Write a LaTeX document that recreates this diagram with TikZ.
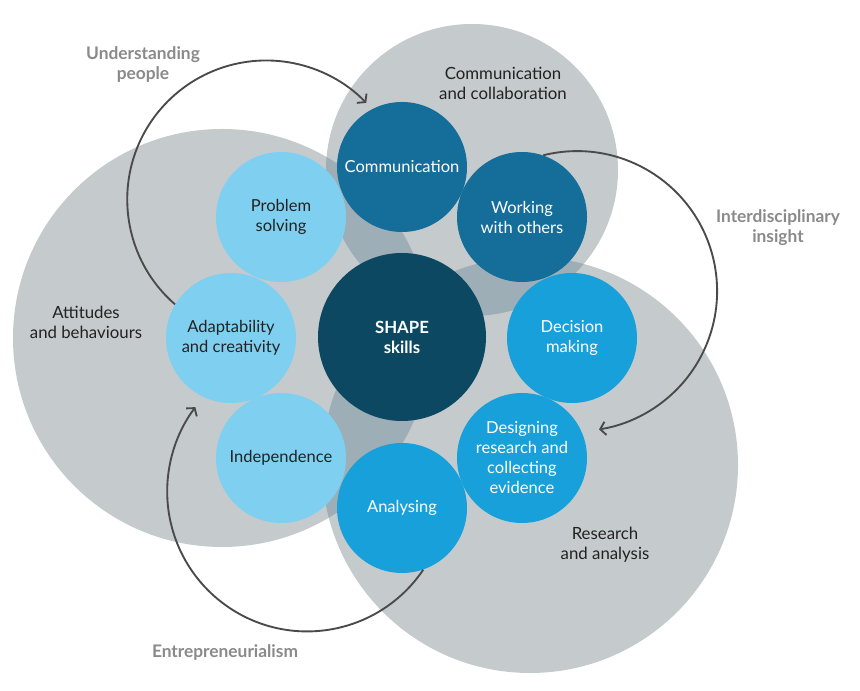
\documentclass[tikz,border=0pt]{standalone}
\usepackage{fontspec}
\setmainfont{Lato}
\usetikzlibrary{arrows.meta}
\definecolor{zone}{HTML}{C5CACD}
\definecolor{zonemix}{HTML}{9DAEB7}
\definecolor{skillpale}{HTML}{7FD0F0}
\definecolor{skillmid}{HTML}{18A0DB}
\definecolor{skilldeep}{HTML}{156E9A}
\definecolor{corefill}{HTML}{0C4862}
\definecolor{loopline}{HTML}{4A4A4A}
\definecolor{themegray}{HTML}{8A8A8A}
\definecolor{inktext}{HTML}{222222}

\begin{document}
\begin{tikzpicture}[x=0.75pt,y=0.75pt,
  skill/.style={circle,inner sep=0pt,minimum size=97.5pt,align=center,
    font=\fontsize{12.4}{15}\selectfont},
  pale/.style={skill,fill=skillpale,text=inktext},
  mid/.style={skill,fill=skillmid,text=white},
  deep/.style={skill,fill=skilldeep,text=white},
  zonelbl/.style={align=center,text=inktext,font=\fontsize{12.6}{15}\selectfont},
  themelbl/.style={align=center,text=themegray,font=\fontsize{13}{15}\bfseries},
  themeloop/.style={draw=loopline,line width=1.4pt,-{Straight Barb[length=4pt,width=10pt]}}]
\useasboundingbox (0,0) rectangle (860,691);
% three grey zones
\coordinate (comzone) at (472,521);
\coordinate (attzone) at (222,353);
\coordinate (reszone) at (530,226);
\fill[zone] (comzone) circle (146);
\fill[zone] (attzone) circle (209);
\fill[zone] (reszone) circle (208);
% overlaps
\begin{scope}
\clip (comzone) circle (146);
\fill[zonemix] (attzone) circle (209);
\fill[zonemix] (reszone) circle (208);
\end{scope}
\begin{scope}
\clip (attzone) circle (209);
\fill[zonemix] (reszone) circle (208);
\end{scope}
\node[zonelbl] (comlbl) at (503,608) {Communication\\and collaboration};
\node[zonelbl] (attlbl) at (86,369) {Attitudes\\and behaviours};
\node[zonelbl] (reslbl) at (605,146) {Research\\and analysis};
% SHAPE core and the eight skills
\node[circle,fill=corefill,text=white,minimum size=126pt,align=center,
  font=\fontsize{12.6}{15}\bfseries] (core) at (402,354) {SHAPE\\skills};
\node[deep] (comm) at (402,524) {Communication};
\node[deep] (work) at (522,474) {Working\\with others};
\node[mid] (dec) at (572,353) {Decision\\making};
\node[mid] (design) at (522,233) {Designing\\research and\\collecting\\evidence};
\node[mid] (anal) at (402,183) {Analysing};
\node[pale] (indep) at (281,233) {Independence};
\node[pale] (adapt) at (231,353) {Adaptability\\and creativity};
\node[pale] (prob) at (281,474) {Problem\\solving};
% cross-cutting themes
\draw[themeloop] (adapt.149) arc[start angle=229,end angle=44,radius=139];
\draw[themeloop] (work.71) arc[start angle=104,end angle=-81,radius=140];
\draw[themeloop] (anal.-71) arc[start angle=-34,end angle=-217,radius=140];
\node[themelbl] (people) at (143,626) {Understanding\\people};
\node[themelbl] (insight) at (778,463) {Interdisciplinary\\insight};
\node[themelbl] (entre) at (225,38) {Entrepreneurialism};
\end{tikzpicture}
\end{document}
